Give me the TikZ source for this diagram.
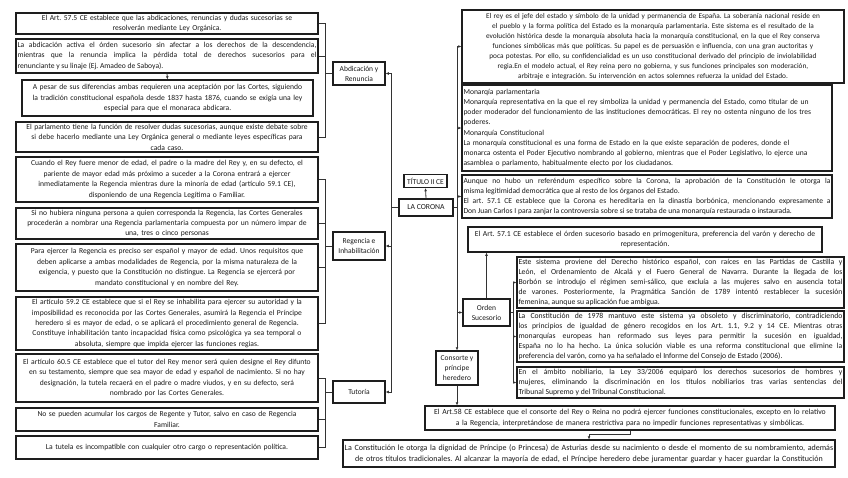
\documentclass[tikz,border=0pt]{standalone}
\usepackage{fontspec}
\setmainfont{Carlito}
\usetikzlibrary{arrows.meta}
\definecolor{bordc}{HTML}{1E1E1E}
\definecolor{linec}{HTML}{333333}
\definecolor{txtc}{HTML}{1A1A1A}
\newcommand{\fA}{\fontsize{7.6}{10.4}\selectfont}
\newcommand{\fB}{\fontsize{7.3}{10}\selectfont}
\newcommand{\fC}{\fontsize{7.7}{10.2}\selectfont}
\newcommand{\fCC}{\fontsize{7.6}{10.2}\selectfont}
\newcommand{\fD}{\fontsize{8}{10.6}\selectfont}
\newcommand{\fE}{\fontsize{7.5}{10}\selectfont}
\frenchspacing
\begin{document}
\begin{tikzpicture}[x=1pt,y=-1pt,
  box/.style={draw=bordc, line width=1.1pt, fill=white, inner sep=1.5pt, text=txtc, font=\fA, align=center},
  jbox/.style={box, align=justify},
  lbox/.style={box, align=left},
  conn/.style={draw=linec, line width=0.8pt},
  arr/.style={conn, -{Latex[length=3.2pt,width=2.8pt]}},
]
\fill[white] (0,0) rectangle (848,477);
\useasboundingbox (0,0) rectangle (848,477);

% ---------- left column ----------
\node[box, minimum width=302pt, minimum height=21pt, text width=299pt] (L1) at (167,23.5)
 {El Art. 57.5 CE establece que las abdicaciones, renuncias y dudas sucesorias se\\resolverán mediante Ley Orgánica.};
\node[jbox, minimum width=302pt, minimum height=34pt, text width=299pt] (L2) at (167,56)
 {La abdicación activa el órden sucesorio sin afectar a los derechos de la descendencia,\linebreak mientras que la renuncia implica la pérdida total de derechos sucesorios para el\linebreak renunciante y su linaje (Ej. Amadeo de Saboya).};
\node[box, minimum width=291pt, minimum height=36pt, text width=288pt] (L3) at (167.5,98)
 {A pesar de sus diferencias ambas requieren una aceptación por las Cortes, siguiendo\\la tradición constitucional española desde 1837 hasta 1876, cuando se exigía una ley\\especial para que el monaraca abdicara.};
\node[box, minimum width=302pt, minimum height=30pt, text width=299pt] (L4) at (167,137)
 {El parlamento tiene la función de resolver dudas sucesorias, aunque existe debate sobre\\si debe hacerlo mediante una Ley Orgánica general o mediante leyes específicas para\\cada caso.};
\node[box, minimum width=302pt, minimum height=45pt, text width=299pt] (L5) at (167,179.5)
 {Cuando el Rey fuere menor de edad, el padre o la madre del Rey y, en su defecto, el\\pariente de mayor edad más próximo a suceder a la Corona entrará a ejercer\\inmediatamente la Regencia mientras dure la minoría de edad (artículo 59.1 CE),\\disponiendo de una Regencia Legítima o Familiar.};
\node[box, minimum width=302pt, minimum height=31pt, text width=299pt] (L6) at (167,223.5)
 {Si no hubiera ninguna persona a quien corresponda la Regencia, las Cortes Generales\\procederán a nombrar una Regencia parlamentaria compuesta por un número impar de\\una, tres o cinco personas};
\node[box, minimum width=302pt, minimum height=47pt, text width=299pt] (L7) at (167,267.5)
 {Para ejercer la Regencia es preciso ser español y mayor de edad. Unos requisitos que\\deben aplicarse a ambas modalidades de Regencia, por la misma naturaleza de la\\exigencia, y puesto que la Constitución no distingue. La Regencia se ejercerá por\\mandato constitucional y en nombre del Rey.};
\node[box, minimum width=302pt, minimum height=53pt, text width=299pt] (L8) at (167,323.5)
 {El artículo 59.2 CE establece que si el Rey se inhabilita para ejercer su autoridad y la\\imposibilidad es reconocida por las Cortes Generales, asumirá la Regencia el Príncipe\\heredero si es mayor de edad, o se aplicará el procedimiento general de Regencia.\\Constituye inhabilitación tanto incapacidad física como psicológica ya sea temporal o\\absoluta, siempre que impida ejercer las funciones regias.};
\node[box, minimum width=302pt, minimum height=48pt, text width=299pt] (L9) at (167,378)
 {El artículo 60.5 CE establece que el tutor del Rey menor será quien designe el Rey difunto\\en su testamento, siempre que sea mayor de edad y español de nacimiento. Si no hay\\designación, la tutela recaerá en el padre o madre viudos, y en su defecto, será\\nombrado por las Cortes Generales.};
\node[box, minimum width=302pt, minimum height=23pt, text width=299pt] (L10) at (167,419.5)
 {No se pueden acumular los cargos de Regente y Tutor, salvo en caso de Regencia\\Familiar.};
\node[box, minimum width=302pt, minimum height=23pt, text width=299pt] (L11) at (167,447.5)
 {La tutela es incompatible con cualquier otro cargo o representación política.};

% ---------- category nodes ----------
\node[box, font=\fE, minimum width=52pt, minimum height=23pt] (abd) at (359,73.5) {Abdicación y\\Renuncia};
\node[box, font=\fE, minimum width=52pt, minimum height=28pt] (reg) at (359,246) {Regencia e\\Inhabilitación};
\node[box, font=\fE, minimum width=52pt, minimum height=22pt] (tut) at (359,392) {Tutoría};
\node[box, font=\fC, minimum width=54pt, minimum height=17pt] (corona) at (426,207.5) {LA CORONA};
\node[box, font=\fE, minimum width=43pt, minimum height=13pt, inner sep=0.5pt] (titulo) at (425.5,181) {TÍTULO II CE};

% ---------- right column ----------
\node[box, font=\fB, minimum width=382pt, minimum height=73pt, text width=379pt] (R1) at (653,46.5)
 {El rey es el jefe del estado y símbolo de la unidad y permanencia de España. La soberanía nacional reside en\\el pueblo y la forma política del Estado es la monarquía parlamentaria. Este sistema es el resultado de la\\evolución histórica desde la monarquía absoluta hacia la monarquía constitucional, en la que el Rey conserva\\funciones simbólicas más que políticas. Su papel es de persuasión e influencia, con una gran auctoritas y\\poca potestas. Por ello, su confidencialidad es un uso constitucional derivado del principio de inviolabilidad\\regia.En el modelo actual, el Rey reina pero no gobierna, y sus funciones principales son moderación,\\arbitraje e integración. Su intervención en actos solemnes refuerza la unidad del Estado.};
\node[lbox, font=\fCC, minimum width=370pt, minimum height=86pt, text width=367pt] (R2) at (647,128)
 {Monarqía parlamentaria\\Monarquía representativa en la que el rey simboliza la unidad y permanencia del Estado, como titular de un\\poder moderador del funcionamiento de las instituciones democráticas. El rey no ostenta ninguno de los tres\\poderes.\\Monarquía Constitucional\\La monarquía constitucional es una forma de Estado en la que existe separación de poderes, donde el\\monarca ostenta el Poder Ejecutivo nombrando al gobierno, mientras que el Poder Legislativo, lo ejerce una\\asamblea o parlamento, habitualmente electo por los ciudadanos.};
\node[jbox, font=\fCC, minimum width=370pt, minimum height=43pt, text width=367pt] (R3) at (647,196.5)
 {Aunque no hubo un referéndum específico sobre la Corona, la aprobación de la Constitución le otorga la\linebreak misma legitimidad democrática que al resto de los órganos del Estado.\\El art. 57.1 CE establece que la Corona es hereditaria en la dinastía borbónica, mencionando expresamente a\linebreak Don Juan Carlos I para zanjar la controversia sobre si se trataba de una monarquía restaurada o instaurada.};
\node[box, font=\fC, minimum width=354pt, minimum height=25pt, text width=351pt] (R4) at (645,239.5)
 {El Art. 57.1 CE establece el órden sucesorio basado en primogenitura, preferencia del varón y derecho de\\representación.};
\node[jbox, font=\fC, minimum width=327pt, minimum height=51pt, text width=324pt] (R5) at (680.5,282.5)
 {Este sistema proviene del Derecho histórico español, con raíces en las Partidas de Castilla y\linebreak León, el Ordenamiento de Alcalá y el Fuero General de Navarra. Durante la llegada de los\linebreak Borbón se introdujo el régimen semi-sálico, que excluía a las mujeres salvo en ausencia total\linebreak de varones. Posteriormente, la Pragmática Sanción de 1789 intentó restablecer la sucesión\linebreak femenina, aunque su aplicación fue ambigua.};
\node[jbox, font=\fC, minimum width=327pt, minimum height=51pt, text width=324pt] (R6) at (680.5,336.5)
 {La Constitución de 1978 mantuvo este sistema ya obsoleto y discriminatorio, contradiciendo\linebreak los principios de igualdad de género recogidos en los Art. 1.1, 9.2 y 14 CE. Mientras otras\linebreak monarquías europeas han reformado sus leyes para permitir la sucesión en igualdad,\linebreak España no lo ha hecho. La única solución viable es una reforma constitucional que elimine la\linebreak preferencia del varón, como ya ha señalado el Informe del Consejo de Estado (2006).};
\node[jbox, font=\fC, minimum width=327pt, minimum height=31pt, text width=324pt] (R7) at (680.5,382.5)
 {En el ámbito nobiliario, la Ley 33/2006 equiparó los derechos sucesorios de hombres y\linebreak mujeres, eliminando la discriminación en los títulos nobiliarios tras varias sentencias del\linebreak Tribunal Supremo y del Tribunal Constitucional.};
\node[box, font=\fE, minimum width=47pt, minimum height=27pt] (orden) at (486.5,312.5) {Orden\\Sucesorio};
\node[box, font=\fE, minimum width=42pt, minimum height=34pt, inner sep=1pt] (cons) at (457,368) {Consorte y\\príncipe\\heredero};
\node[box, font=\fC, minimum width=410pt, minimum height=24pt, text width=407pt] (R8) at (630,418)
 {El Art.58 CE establece que el consorte del Rey o Reina no podrá ejercer funciones constitucionales, excepto en lo relativo\\a la Regencia, interpretándose de manera restrictiva para no impedir funciones representativas y simbólicas.};
\node[box, font=\fD, minimum width=492pt, minimum height=27pt, text width=489pt] (R9) at (589,453.5)
 {La Constitución le otorga la dignidad de Príncipe (o Princesa) de Asturias desde su nacimiento o desde el momento de su nombramiento, además\\de otros títulos tradicionales. Al alcanzar la mayoría de edad, el Príncipe heredero debe juramentar guardar y hacer guardar la Constitución};

% ---------- connectors ----------
\draw[arr] (corona.north) -- (titulo.south);
\foreach \n in {abd,reg,tut}{\draw[arr] (corona.west) -- ++(-7,0) |- (\n.east);}
\foreach \n in {L1,L2,L4}{\draw[conn] (abd.west) -- ++(-7,0) |- (\n.east);}
\foreach \n in {L5,L6,L7,L8}{\draw[conn] (reg.west) -- ++(-7,0) |- (\n.east);}
\foreach \n in {L9,L10,L11}{\draw[conn] (tut.west) -- ++(-7,0) |- (\n.east);}
\draw[arr] (L2.south) -- (L3.north);

\coordinate (rt) at (457,207.5);
\draw[conn] (corona.east) -- (rt);
\foreach \n in {R1,R2,R3,orden}{\draw[arr] (rt) |- (\n.west);}
\draw[arr] (rt) -- (cons.north);
\draw[arr] (orden.north) -- (orden.north |- R4.south);
\foreach \n in {R5,R6,R7}{\draw[arr] (orden.east) -- ++(3,0) |- (\n.west);}
\draw[arr] (cons.south) -- (cons.south |- R8.north);
\draw[arr] (R8.south) -- ++(0,4) -| (R9.north);
\end{tikzpicture}
\end{document}
